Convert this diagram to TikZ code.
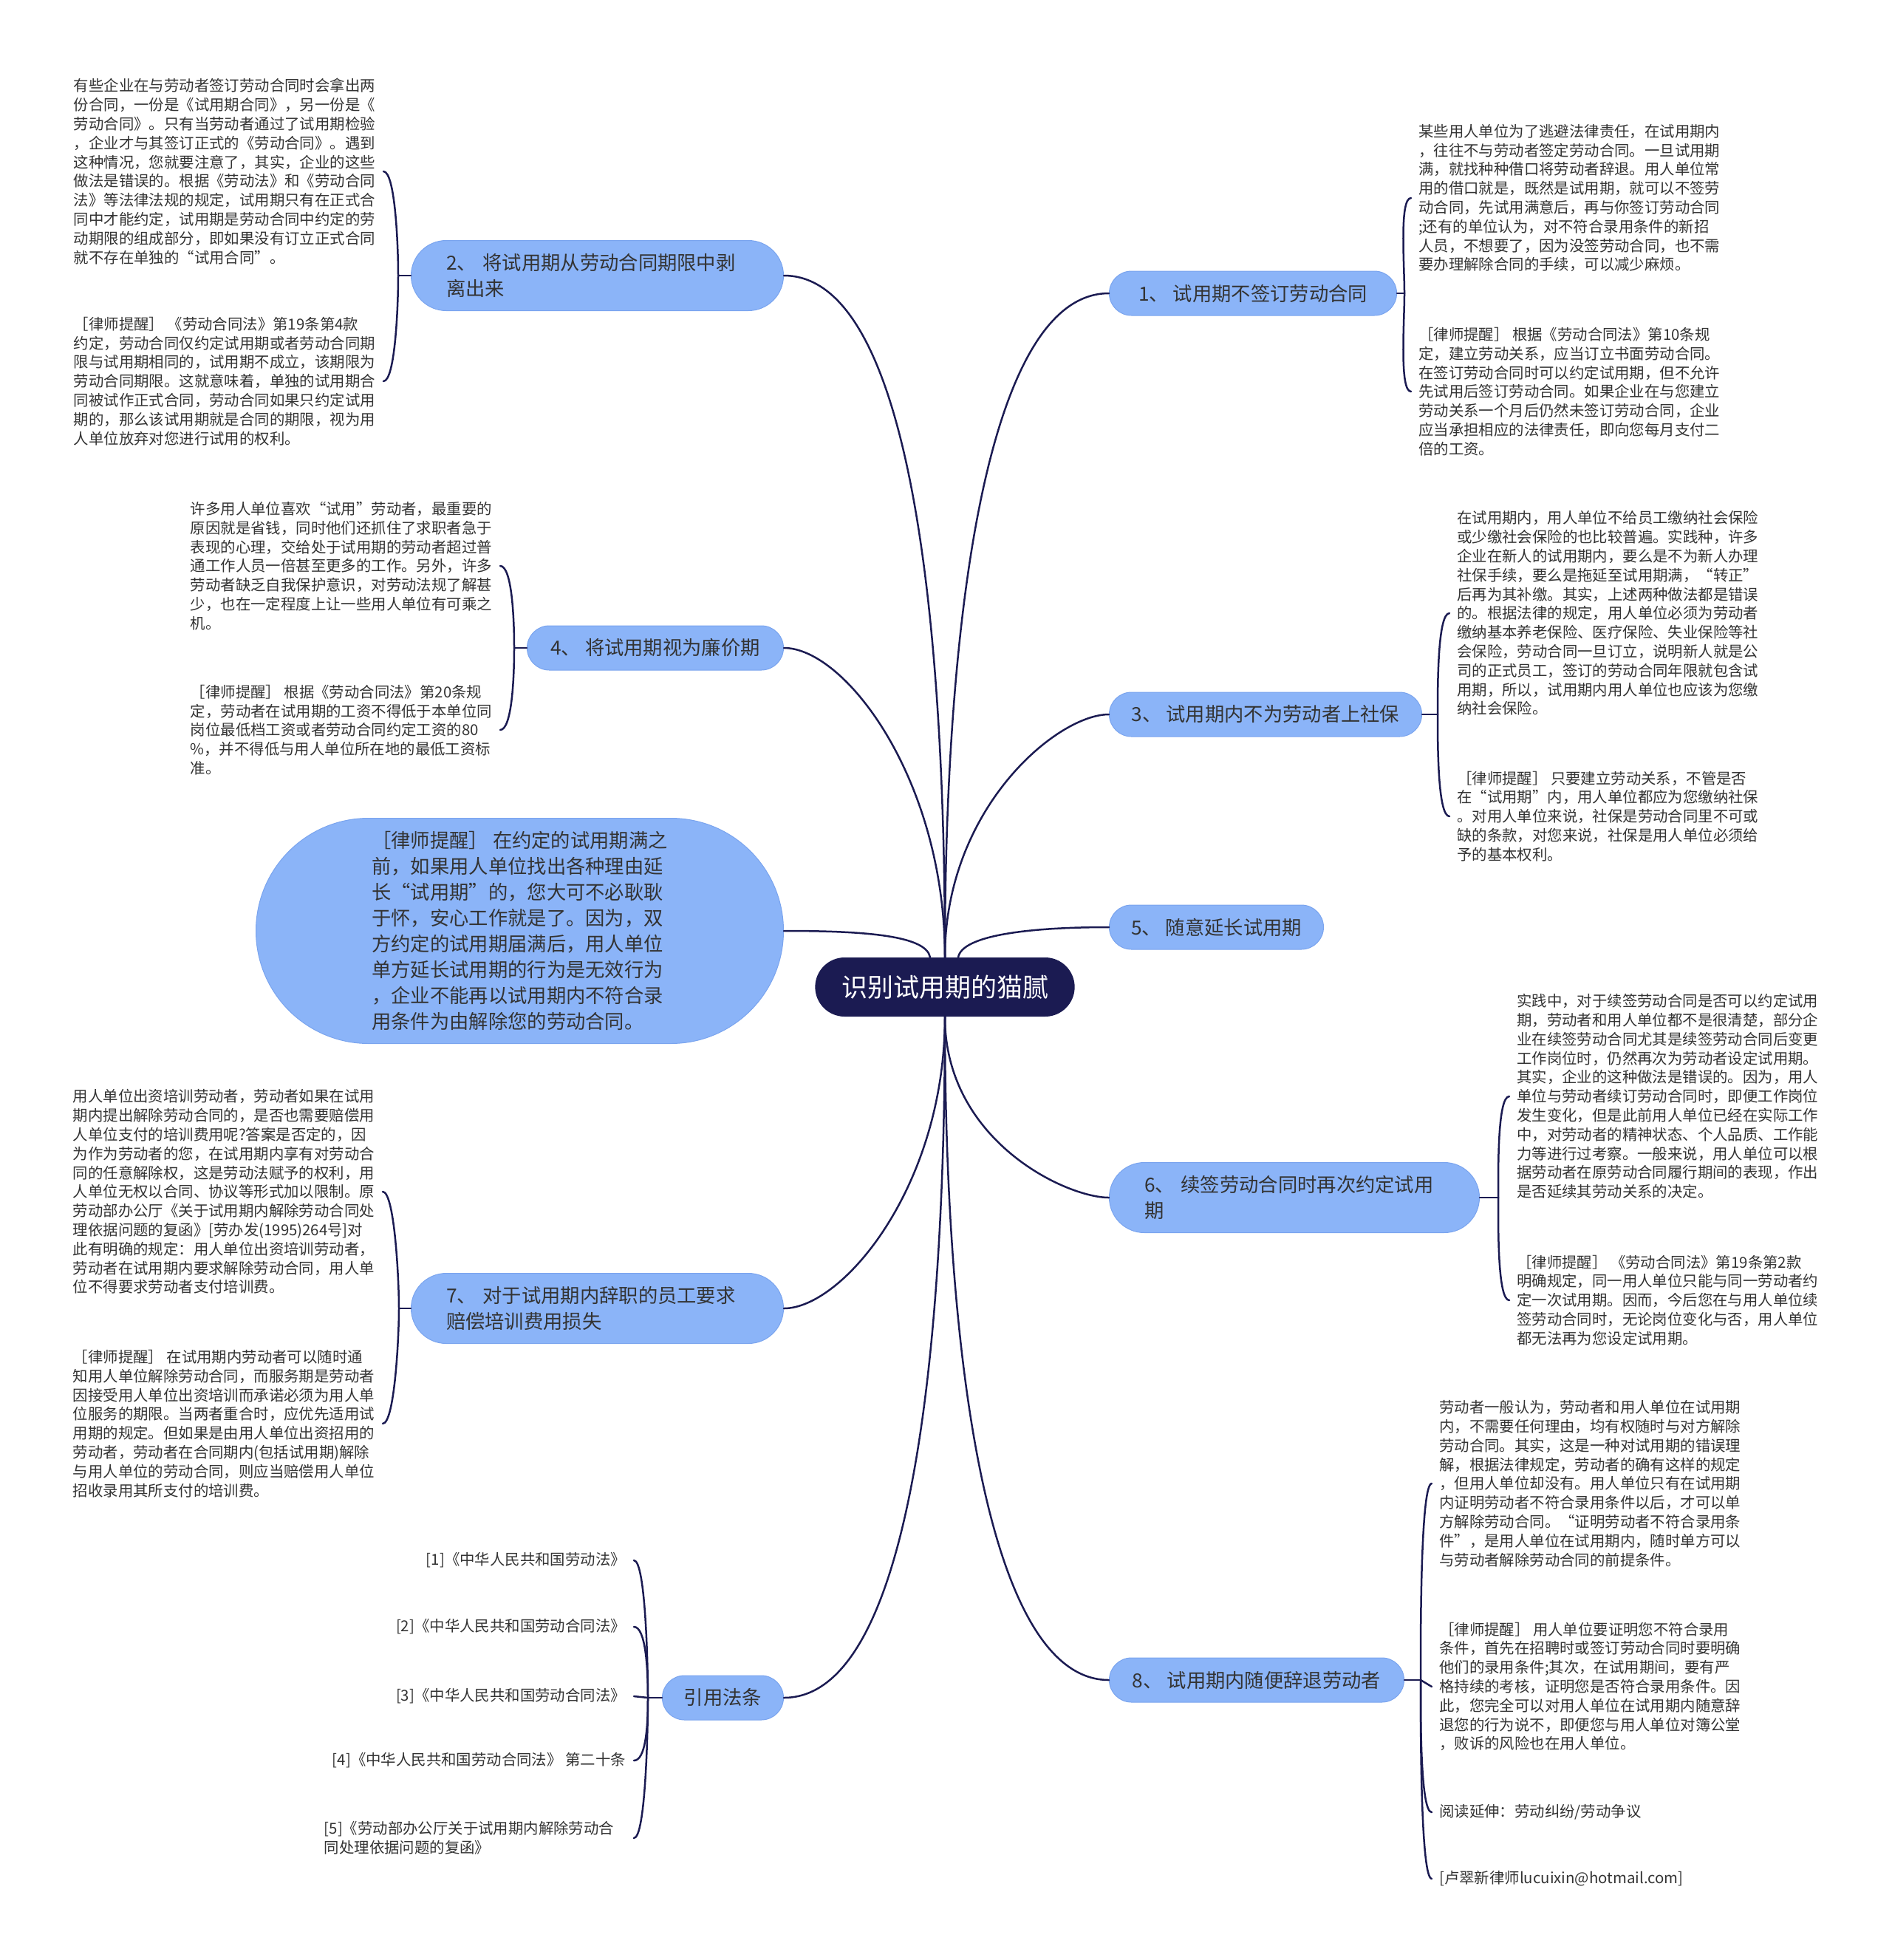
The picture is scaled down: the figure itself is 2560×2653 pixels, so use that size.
\documentclass[tikz,border=0pt]{standalone}
\usepackage{fontspec}
\setmainfont{Noto Sans CJK SC}
\usepackage{xcolor}
\usepackage{tikz}
\usetikzlibrary{positioning,shapes.misc}
\definecolor{MapNavy}{RGB}{27,27,82}
\definecolor{MapBlue}{RGB}{139,180,248}
\definecolor{MapEdge}{RGB}{122,164,238}
\definecolor{MapText}{RGB}{51,51,51}
\newcommand\leaffont{\fontsize{20.4pt}{25.8pt}\selectfont}
\newcommand\branchfont{\fontsize{26.3pt}{35pt}\selectfont}
\newcommand\rootfont{\fontsize{35pt}{42pt}\selectfont}

\begin{document}
\begin{tikzpicture}[
    x=1pt,y=1pt,
    root/.style={rounded rectangle, fill=MapNavy, text=white, minimum width=358pt, minimum height=80pt, font=\rootfont},
    branch/.style={rounded rectangle, draw=MapEdge, line width=1pt, fill=MapBlue, text=MapText, minimum height=60pt, inner xsep=0pt, align=left, font=\branchfont},
    twoline/.style={branch, rectangle, rounded corners=47.5pt, text width=409pt, inner xsep=47.5pt, minimum height=95pt},
    leaf/.style={align=left, text=MapText, inner ysep=2pt, font=\leaffont},
    leafr/.style={leaf, anchor=west, inner xsep=10pt},
    leafl/.style={leaf, anchor=east, inner xsep=11pt},
    link/.style={draw=MapNavy, line width=2.5pt, line cap=round},
    hook/.style={link, out distance=40pt, in distance=16pt},
    trunk/.style={link, out looseness=1.3, in looseness=0.45}
  ]
    \useasboundingbox (0,0) rectangle (2560,-2653);
    \node[root] (root) at (1279,-1336) {识别试用期的猫腻};
    \node[branch, anchor=west, minimum width=389pt] (b1) at (1501,-397) {1、 试用期不签订劳动合同};
    \node[twoline, anchor=east] (b2) at (1061,-373) {2、 将试用期从劳动合同期限中剥\\离出来};
    \node[branch, anchor=west, minimum width=423pt] (b3) at (1501,-967) {3、 试用期内不为劳动者上社保};
    \node[branch, anchor=east, minimum width=347pt] (b4) at (1061,-877) {4、 将试用期视为廉价期};
    \node[branch, anchor=west, minimum width=290pt] (b5) at (1501,-1255) {5、 随意延长试用期};
    \node[twoline, anchor=west, text width=406pt] (b6) at (1501,-1621) {6、 续签劳动合同时再次约定试用\\期};
    \node[twoline, anchor=east] (b7) at (1061,-1771) {7、 对于试用期内辞职的员工要求\\赔偿培训费用损失};
    \node[branch, anchor=west, minimum width=399pt] (b8) at (1501,-2274) {8、 试用期内随便辞退劳动者};
    \node[branch, anchor=east, minimum width=164pt] (b9) at (1061,-2298) {引用法条};
    \node[branch, anchor=east, minimum width=714pt, minimum height=305pt] (remind) at (1061,-1260) {［律师提醒］ 在约定的试用期满之\\
前，如果用人单位找出各种理由延\\
长“试用期”的，您大可不必耿耿\\
于怀，安心工作就是了。因为，双\\
方约定的试用期届满后，用人单位\\
单方延长试用期的行为是无效行为\\
，企业不能再以试用期内不符合录\\
用条件为由解除您的劳动合同。};
    \coordinate[right=10pt of b1] (j1);
    \coordinate[left=17pt of b2] (j2);
    \coordinate[right=21pt of b3] (j3);
    \coordinate[left=17pt of b4] (j4);
    \coordinate[right=25pt of b6] (j6);
    \coordinate[left=16pt of b7] (j7);
    \coordinate[right=22pt of b8] (j8);
    \coordinate[left=19pt of b9] (j9);
    \node[leafr] (l1a) at (1910,-268) {某些用人单位为了逃避法律责任，在试用期内\\
，往往不与劳动者签定劳动合同。一旦试用期\\
满，就找种种借口将劳动者辞退。用人单位常\\
用的借口就是，既然是试用期，就可以不签劳\\
动合同，先试用满意后，再与你签订劳动合同\\
;还有的单位认为，对不符合录用条件的新招\\
人员，不想要了，因为没签劳动合同，也不需\\
要办理解除合同的手续，可以减少麻烦。};
    \node[leafr] (l1b) at (1910,-530) {［律师提醒］ 根据《劳动合同法》第10条规\\
定，建立劳动关系，应当订立书面劳动合同。\\
在签订劳动合同时可以约定试用期，但不允许\\
先试用后签订劳动合同。如果企业在与您建立\\
劳动关系一个月后仍然未签订劳动合同，企业\\
应当承担相应的法律责任，即向您每月支付二\\
倍的工资。};
    \node[leafl] (l2a) at (519,-232) {有些企业在与劳动者签订劳动合同时会拿出两\\
份合同，一份是《试用期合同》，另一份是《\\
劳动合同》。只有当劳动者通过了试用期检验\\
，企业才与其签订正式的《劳动合同》。遇到\\
这种情况，您就要注意了，其实，企业的这些\\
做法是错误的。根据《劳动法》和《劳动合同\\
法》等法律法规的规定，试用期只有在正式合\\
同中才能约定，试用期是劳动合同中约定的劳\\
动期限的组成部分，即如果没有订立正式合同\\
就不存在单独的“试用合同”。};
    \node[leafl] (l2b) at (519,-516) {［律师提醒］ 《劳动合同法》第19条第4款\\
约定，劳动合同仅约定试用期或者劳动合同期\\
限与试用期相同的，试用期不成立，该期限为\\
劳动合同期限。这就意味着，单独的试用期合\\
同被试作正式合同，劳动合同如果只约定试用\\
期的，那么该试用期就是合同的期限，视为用\\
人单位放弃对您进行试用的权利。};
    \node[leafr] (l3a) at (1962,-830) {在试用期内，用人单位不给员工缴纳社会保险\\
或少缴社会保险的也比较普遍。实践种，许多\\
企业在新人的试用期内，要么是不为新人办理\\
社保手续，要么是拖延至试用期满，“转正”\\
后再为其补缴。其实，上述两种做法都是错误\\
的。根据法律的规定，用人单位必须为劳动者\\
缴纳基本养老保险、医疗保险、失业保险等社\\
会保险，劳动合同一旦订立，说明新人就是公\\
司的正式员工，签订的劳动合同年限就包含试\\
用期，所以，试用期内用人单位也应该为您缴\\
纳社会保险。};
    \node[leafr] (l3b) at (1962,-1105) {［律师提醒］ 只要建立劳动关系，不管是否\\
在“试用期”内，用人单位都应为您缴纳社保\\
。对用人单位来说，社保是劳动合同里不可或\\
缺的条款，对您来说，社保是用人单位必须给\\
予的基本权利。};
    \node[leafl] (l4a) at (677,-766) {许多用人单位喜欢“试用”劳动者，最重要的\\
原因就是省钱，同时他们还抓住了求职者急于\\
表现的心理，交给处于试用期的劳动者超过普\\
通工作人员一倍甚至更多的工作。另外，许多\\
劳动者缺乏自我保护意识，对劳动法规了解甚\\
少，也在一定程度上让一些用人单位有可乘之\\
机。};
    \node[leafl] (l4b) at (677,-988) {［律师提醒］ 根据《劳动合同法》第20条规\\
定，劳动者在试用期的工资不得低于本单位同\\
岗位最低档工资或者劳动合同约定工资的80\\
\%，并不得低与用人单位所在地的最低工资标\\
准。};
    \node[leafr] (l6a) at (2043,-1484) {实践中，对于续签劳动合同是否可以约定试用\\
期，劳动者和用人单位都不是很清楚，部分企\\
业在续签劳动合同尤其是续签劳动合同后变更\\
工作岗位时，仍然再次为劳动者设定试用期。\\
其实，企业的这种做法是错误的。因为，用人\\
单位与劳动者续订劳动合同时，即便工作岗位\\
发生变化，但是此前用人单位已经在实际工作\\
中，对劳动者的精神状态、个人品质、工作能\\
力等进行过考察。一般来说，用人单位可以根\\
据劳动者在原劳动合同履行期间的表现，作出\\
是否延续其劳动关系的决定。};
    \node[leafr] (l6b) at (2043,-1760) {［律师提醒］ 《劳动合同法》第19条第2款\\
明确规定，同一用人单位只能与同一劳动者约\\
定一次试用期。因而，今后您在与用人单位续\\
签劳动合同时，无论岗位变化与否，用人单位\\
都无法再为您设定试用期。};
    \node[leafl] (l7a) at (518,-1613) {用人单位出资培训劳动者，劳动者如果在试用\\
期内提出解除劳动合同的，是否也需要赔偿用\\
人单位支付的培训费用呢?答案是否定的，因\\
为作为劳动者的您，在试用期内享有对劳动合\\
同的任意解除权，这是劳动法赋予的权利，用\\
人单位无权以合同、协议等形式加以限制。原\\
劳动部办公厅《关于试用期内解除劳动合同处\\
理依据问题的复函》[劳办发(1995)264号]对\\
此有明确的规定：用人单位出资培训劳动者，\\
劳动者在试用期内要求解除劳动合同，用人单\\
位不得要求劳动者支付培训费。};
    \node[leafl] (l7b) at (518,-1927) {［律师提醒］ 在试用期内劳动者可以随时通\\
知用人单位解除劳动合同，而服务期是劳动者\\
因接受用人单位出资培训而承诺必须为用人单\\
位服务的期限。当两者重合时，应优先适用试\\
用期的规定。但如果是由用人单位出资招用的\\
劳动者，劳动者在合同期内(包括试用期)解除\\
与用人单位的劳动合同，则应当赔偿用人单位\\
招收录用其所支付的培训费。};
    \node[leafr] (l8a) at (1938,-2008) {劳动者一般认为，劳动者和用人单位在试用期\\
内，不需要任何理由，均有权随时与对方解除\\
劳动合同。其实，这是一种对试用期的错误理\\
解，根据法律规定，劳动者的确有这样的规定\\
，但用人单位却没有。用人单位只有在试用期\\
内证明劳动者不符合录用条件以后，才可以单\\
方解除劳动合同。“证明劳动者不符合录用条\\
件”，是用人单位在试用期内，随时单方可以\\
与劳动者解除劳动合同的前提条件。};
    \node[leafr] (l8b) at (1938,-2283) {［律师提醒］ 用人单位要证明您不符合录用\\
条件，首先在招聘时或签订劳动合同时要明确\\
他们的录用条件;其次，在试用期间，要有严\\
格持续的考核，证明您是否符合录用条件。因\\
此，您完全可以对用人单位在试用期内随意辞\\
退您的行为说不，即便您与用人单位对簿公堂\\
，败诉的风险也在用人单位。};
    \node[leafr] (l8c) at (1938,-2453) {阅读延伸：劳动纠纷/劳动争议};
    \node[leafr] (l8d) at (1938,-2543) {[卢翠新律师lucuixin@hotmail.com]};
    \foreach \n/\y/\law in {1/-2112/《中华人民共和国劳动法》,2/-2202/《中华人民共和国劳动合同法》,3/-2296/《中华人民共和国劳动合同法》,4/-2383/《中华人民共和国劳动合同法》 第二十条} {
      \node[leafl] (r\n) at (858,\y) {[\n]\law};
    }
    \node[leafl, text width=408pt] (r5) at (858,-2488) {[5]《劳动部办公厅关于试用期内解除劳动合\\同处理依据问题的复函》};
    \foreach \b/\dir/\side in {b1/180/west,b2/0/east,b3/180/west,b4/0/east} {
      \draw[trunk] (root.north) to[out=90,in=\dir] (\b.\side);
    }
    \foreach \b/\dir/\side in {b6/180/west,b7/0/east,b8/180/west,b9/0/east} {
      \draw[trunk] (root.south) to[out=-90,in=\dir] (\b.\side);
    }
    \draw[link] ([xshift=18pt]root.north) to[out=80,in=180,out distance=30pt,in distance=110pt] (b5.west);
    \draw[link] ([xshift=-20pt]root.north) to[out=100,in=0,out distance=30pt,in distance=110pt] (remind.east);
    \foreach \b/\j/\side in {b1/j1/east,b2/j2/west,b3/j3/east,b4/j4/west,b6/j6/east,b7/j7/west,b8/j8/east,b9/j9/west} {
      \draw[link] (\b.\side) -- (\j);
    }
    \foreach \j/\l/\o/\i/\a in {j1/l1a/90/180/west,j1/l1b/-90/180/west,j2/l2a/90/0/east,j2/l2b/-90/0/east,j3/l3a/90/180/west,j3/l3b/-90/180/west,j4/l4a/90/0/east,j4/l4b/-90/0/east,j6/l6a/90/180/west,j6/l6b/-90/180/west,j7/l7a/90/0/east,j7/l7b/-90/0/east,j8/l8a/90/180/west,j8/l8c/-90/180/west,j8/l8d/-90/180/west,j9/r1/90/0/east,j9/r2/90/0/east,j9/r4/-90/0/east,j9/r5/-90/0/east} {
      \draw[hook] (\j) to[out=\o,in=\i] (\l.\a);
    }
    \draw[link] (j8) -- (l8b.west);
    \draw[link] (j9) -- (r3.east);
  \end{tikzpicture}
\end{document}
